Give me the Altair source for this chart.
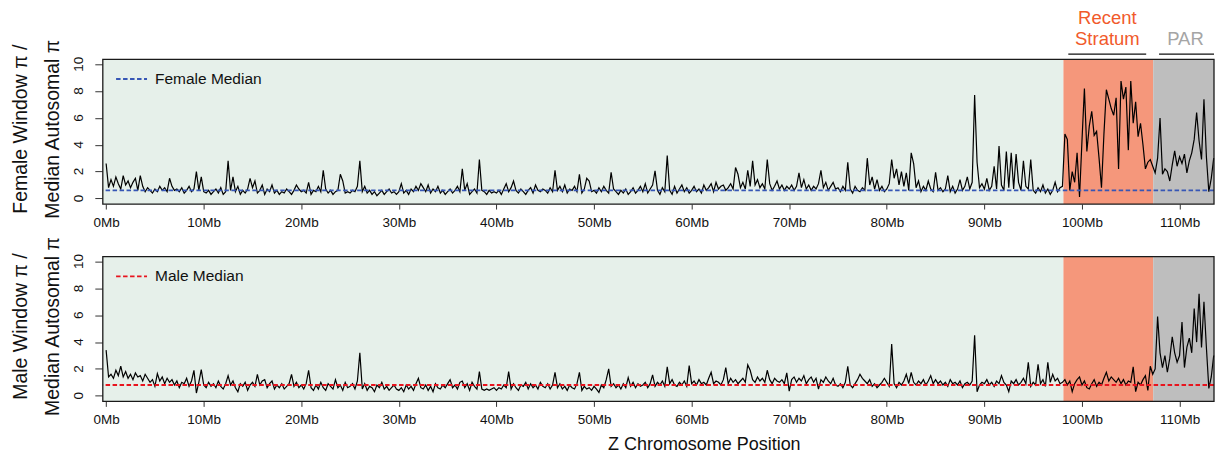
import altair as alt
import pandas as pd

FONT = "Liberation Sans"
STEP_MB = 0.25  # window spacing (Mb)

# Female window pi / median autosomal pi, one value per 0.25 Mb from 0 Mb
female_pi = [
    2.6, 0.8, 1.4, 0.9, 1.6, 1.1, 0.7, 1.7, 1.0, 1.3, 0.8, 1.2, 1.5, 0.6, 1.7, 0.9, 0.5, 0.8, 0.6, 0.4,
    0.7, 0.5, 0.9, 0.6, 0.8, 0.5, 1.5, 0.9, 0.6, 0.7, 0.5, 0.8, 0.4, 0.6, 0.9, 0.5, 0.7, 2.0, 0.6, 1.6,
    0.5, 0.4, 0.6, 0.3, 0.5, 0.7, 0.4, 0.8, 0.3, 0.5, 2.8, 0.6, 1.6, 0.5, 0.9, 0.3, 0.6, 0.4, 0.7, 1.5,
    0.8, 1.3, 0.4, 0.6, 1.0, 0.3, 0.7, 0.5, 1.0, 0.4, 0.6, 0.3, 0.5, 0.4, 0.7, 0.5, 0.3, 0.6, 1.0, 0.7,
    0.5, 0.6, 0.4, 1.2, 0.3, 0.6, 0.5, 0.9, 0.5, 2.1, 0.7, 0.4, 0.6, 0.3, 0.5, 0.6, 1.8, 1.3, 0.4, 0.5,
    0.4, 0.6, 0.5, 0.9, 2.8, 0.5, 0.9, 0.4, 0.6, 0.3, 0.5, 0.2, 0.4, 0.6, 0.3, 0.5, 0.7, 0.4, 0.5, 0.3,
    0.5, 1.1, 0.4, 0.6, 0.3, 0.7, 0.5, 0.9, 0.6, 1.1, 0.8, 0.5, 1.0, 0.4, 0.7, 0.5, 0.9, 0.4, 0.6, 0.3,
    0.5, 0.7, 0.4, 0.6, 0.9, 0.5, 2.2, 0.6, 1.1, 0.3, 0.5, 0.7, 0.4, 2.9, 0.6, 0.5, 0.3, 0.6, 0.4, 0.5,
    0.4, 0.6, 0.3, 0.7, 1.1, 0.5, 0.8, 1.3, 0.6, 0.4, 0.7, 0.5, 0.3, 0.6, 0.8, 0.4, 1.0, 0.6, 0.5, 0.7,
    0.6, 0.4, 0.8, 0.5, 2.1, 0.6, 0.9, 0.5, 1.0, 0.4, 0.7, 0.6, 0.9, 0.5, 1.8, 0.4, 0.7, 1.5, 1.3, 0.5,
    0.6, 0.4, 0.8, 0.5, 0.9, 0.6, 0.4, 1.95, 0.7, 0.5, 0.3, 0.6, 0.4, 0.7, 0.3, 0.5, 0.8, 0.4, 0.6, 0.9,
    0.5, 1.1, 0.4, 0.7, 1.0, 2.05, 0.6, 0.3, 0.8, 0.5, 3.2, 0.6, 0.3, 0.9, 0.4, 0.7, 1.0, 0.5, 0.8, 0.4,
    0.6, 0.9, 0.5, 0.7, 0.4, 1.0, 0.6, 0.8, 1.1, 0.5, 1.2, 0.7, 0.9, 1.0, 0.6, 0.8, 1.1, 0.7, 2.3, 1.8,
    0.8, 1.2, 0.7, 2.1, 0.9, 2.8, 1.0, 1.4, 0.8, 1.1, 0.7, 2.9, 1.1, 0.6, 0.9, 1.3, 0.7, 1.0, 0.6, 0.9,
    0.7, 1.0, 0.6, 0.9, 1.9, 0.8, 1.4, 0.7, 1.0, 0.6, 0.9, 0.7, 1.1, 2.1, 0.8, 1.2, 0.6, 0.9, 1.2, 0.7,
    0.8, 0.5, 0.9, 0.6, 2.7, 0.7, 0.4, 0.9, 0.6, 0.5, 0.8, 0.6, 3.0, 1.0, 1.6, 0.7, 1.4, 0.6, 0.9, 0.5,
    0.7, 1.1, 2.9, 1.5, 2.2, 1.0, 2.0, 0.9, 1.9, 0.6, 3.4, 2.6, 0.8, 1.3, 0.5, 0.9, 0.6, 1.3, 0.7, 0.5,
    1.95, 0.6, 0.8, 0.5, 0.7, 1.7, 0.5, 0.9, 0.4, 0.7, 1.4, 0.6, 0.9, 1.6, 0.7, 1.2, 7.7, 2.7, 0.8, 1.1,
    0.7, 1.5, 0.6, 0.9, 2.4, 0.7, 3.9, 1.0, 0.6, 3.5, 0.8, 3.4, 0.7, 3.3, 1.2, 0.6, 2.8, 0.9, 0.7, 2.9,
    0.6, 0.4, 0.8, 0.5, 1.0, 0.4, 0.7, 0.3, 0.6, 1.2, 0.5, 0.8, 0.9, 4.8, 4.4, 0.6, 2.0, 1.2, 3.4, 0.1,
    4.3, 8.2, 3.5, 5.4, 6.5, 4.7, 5.0, 3.0, 0.8, 4.8, 8.1, 7.4, 6.7, 6.2, 7.5, 2.2, 8.75, 7.4, 8.3, 3.6,
    8.75, 5.6, 7.2, 4.6, 5.6, 4.0, 2.2, 2.7, 2.9, 2.4, 1.9, 3.0, 6.0, 1.8, 2.2, 2.0, 1.3, 2.5, 3.55, 2.4,
    3.1, 2.6, 3.3, 1.9, 2.8, 3.4, 4.4, 6.4, 4.3, 2.9, 7.4, 3.1, 0.5, 1.5, 3.0,
]

# Male window pi / median autosomal pi, one value per 0.25 Mb from 0 Mb
male_pi = [
    3.4, 1.4, 1.6, 1.3, 1.9, 1.5, 2.2, 1.4, 1.8, 1.3, 1.6, 1.2, 1.7, 1.4, 1.5, 1.1, 1.6, 1.3, 1.0, 1.2,
    0.7, 1.65, 1.1, 1.4, 0.9, 1.3, 1.0, 1.2, 0.8, 1.1, 0.6, 1.0, 0.9, 1.3, 0.7, 1.1, 1.9, 0.2, 1.0, 1.95,
    0.8, 0.6, 1.0, 0.7, 0.9, 0.6, 1.1, 0.7, 0.5, 0.9, 1.5, 0.8, 1.1, 0.6, 0.3, 0.9, 0.7, 1.0, 0.4, 0.8,
    1.0, 0.7, 1.6, 0.8, 1.1, 1.2, 0.6, 0.9, 1.1, 0.5, 0.8, 0.6, 0.9, 0.5, 0.7, 0.9, 1.6, 0.7, 1.0, 0.6,
    0.8, 0.5, 0.9, 1.9, 0.6, 0.4, 0.8, 0.5, 1.0, 0.6, 0.4, 0.9, 0.7, 0.5, 1.2, 0.6, 0.8, 0.4, 1.0, 0.6,
    0.7, 0.9, 0.5, 1.1, 3.2, 0.5, 0.9, 0.4, 0.7, 0.6, 0.3, 0.8, 0.6, 1.0, 0.5, 0.7, 0.4, 0.6, 0.8, 0.5,
    0.4, 0.6, 0.3, 0.8, 0.5, 0.7, 0.4, 0.9, 1.3, 0.6, 0.5, 0.8, 0.4, 0.7, 0.3, 0.9, 0.6, 0.5, 0.8, 0.6,
    0.9, 1.2, 0.6, 0.8, 0.5, 1.0, 1.1, 0.6, 0.9, 0.4, 1.0, 0.7, 0.5, 1.8, 0.5, 0.4, 0.5, 0.4, 0.5, 0.6,
    0.4, 0.6, 0.5, 0.8, 0.6, 1.8, 0.5, 0.9, 0.6, 0.4, 0.8, 0.7, 1.0, 0.5, 0.9, 0.6, 0.8, 0.5, 1.0, 0.7,
    0.6, 0.9, 0.5, 0.8, 1.75, 0.6, 0.9, 0.5, 0.7, 0.4, 0.8, 0.6, 0.5, 0.9, 1.75, 0.4, 0.7, 0.5, 0.6, 0.4,
    0.7, 0.5, 0.25, 0.8, 0.6, 1.2, 2.0, 0.7, 0.9, 0.6, 0.8, 0.5, 0.9, 0.6, 1.35, 0.7, 1.0, 0.6, 0.9, 0.7,
    0.8, 1.0, 0.6, 0.9, 1.55, 0.7, 1.0, 0.8, 1.1, 0.7, 2.15, 0.9, 1.2, 0.8, 0.7, 1.0, 0.8, 1.1, 0.7, 2.25,
    0.9, 1.1, 0.8, 1.2, 0.9, 1.0, 0.8, 1.3, 1.75, 0.9, 1.1, 1.0, 0.8, 1.2, 2.1, 0.9, 1.3, 1.0, 1.2, 0.9,
    1.1, 1.3, 1.0, 2.3, 1.9, 1.2, 1.0, 1.4, 1.1, 1.3, 1.0, 1.9, 1.2, 0.9, 1.3, 1.1, 1.0, 1.2, 0.9, 1.7,
    0.35, 1.2, 1.4, 1.0, 1.3, 1.1, 1.5, 0.9, 1.2, 1.4, 1.0, 1.3, 0.5, 1.2, 1.0, 1.4, 1.1, 0.9, 1.3, 0.8,
    0.7, 0.9, 0.6, 1.0, 2.2, 0.8, 0.6, 0.9, 1.2, 1.6, 1.3, 1.1, 0.9, 1.2, 0.7, 0.9, 0.6, 0.8, 1.0, 1.3,
    1.0, 0.7, 3.85, 0.9, 0.6, 1.0, 0.8, 1.1, 1.6, 0.9, 1.75, 1.0, 0.8, 1.1, 0.9, 1.2, 0.8, 1.1, 1.5, 0.9,
    1.2, 0.9, 1.1, 0.8, 1.0, 0.7, 1.2, 0.9, 1.0, 0.8, 1.1, 0.6, 0.9, 1.0, 0.8, 1.1, 4.5, 0.3, 0.8, 1.0,
    0.9, 1.2, 0.8, 1.0, 0.7, 1.1, 0.9, 1.5, 1.0, 0.8, 0.3, 1.1, 0.9, 1.2, 0.8, 1.0, 1.3, 0.9, 2.5, 0.7,
    1.0, 0.8, 2.35, 0.9, 1.2, 0.7, 2.5, 1.0, 1.6, 1.1, 1.3, 0.9, 1.0, 1.2, 0.8, 1.1, 0.3, 0.9, 1.2, 1.4,
    0.8, 1.1, 0.6, 0.5, 0.9, 1.2, 0.7, 1.0, 0.8, 1.3, 1.75, 1.1, 1.4, 1.2, 1.0, 1.3, 0.9, 1.2, 0.8, 1.1,
    1.0, 2.15, 0.3, 1.0, 0.8, 1.2, 1.5, 0.4, 2.2, 1.6, 2.0, 5.9, 3.2, 2.1, 3.0, 1.75, 2.8, 4.4, 3.2, 2.5,
    3.0, 5.5, 2.1, 3.6, 4.3, 3.2, 6.5, 4.0, 7.6, 3.6, 7.0, 3.6, 0.55, 1.4, 3.0,
]

FEMALE_MEDIAN = 0.6
MALE_MEDIAN = 0.8

# Regions of the Z chromosome (Mb)
region_names = ["old", "Recent Stratum", "PAR"]
region_start = [-0.34, 98.1, 107.3]
region_end = [98.1, 107.3, 113.53]
region_fill = ["#E6F0EA", "#F5977B", "#BEBEBE"]

x_ticks = [0, 10, 20, 30, 40, 50, 60, 70, 80, 90, 100, 110]
y_ticks = [0, 2, 4, 6, 8, 10]

W, H = 1113.3, 145
X_DOMAIN = [-0.34, 113.53]
Y_DOMAIN = [-0.42, 10.37]

xs = alt.Scale(domain=X_DOMAIN, nice=False, zero=False)
ys = alt.Scale(domain=Y_DOMAIN, nice=False, zero=False)

xaxis = alt.Axis(values=x_ticks, labelExpr="datum.value + 'Mb'", title=None, domain=False,
                 grid=False, tickSize=5, tickColor="#333333", labelPadding=6,
                 labelFontSize=13.5, labelFont=FONT, labelColor="#111111",
                 labelBaseline="top", labelAlign="center")
# y tick labels are drawn as rotated text marks below
yaxis = alt.Axis(values=y_ticks, title=None, domain=False, grid=False, tickSize=8,
                 tickColor="#333333", labels=False)


def X(field):
    return alt.X(field, type="quantitative", scale=xs, axis=xaxis)


def Y(field):
    return alt.Y(field, type="quantitative", scale=ys, axis=yaxis)


def panel(values, median, med_color, legend_label, ylines, top=False, bottom=False):
    positions = [i * STEP_MB for i in range(len(values))]
    df_line = pd.DataFrame({"pos": positions, "pi": values})
    df_reg = pd.DataFrame({"name": region_names, "start": region_start,
                           "end": region_end, "fill": region_fill})

    bands = alt.Chart(df_reg).mark_rect().encode(
        x=X("start"), x2="end", y=alt.value(0), y2=alt.value(H),
        color=alt.Color("fill:N", scale=None))

    line = alt.Chart(df_line).mark_line(color="black", strokeWidth=1.2).encode(
        x=X("pos"), y=Y("pi"))

    med = alt.Chart(pd.DataFrame({"m": [median]})).mark_rule(
        color=med_color, strokeDash=[4.5, 2.5], strokeWidth=1.8).encode(y=Y("m"))

    leg_rule = alt.Chart(pd.DataFrame({"a": [0]})).mark_rule(
        color=med_color, strokeDash=[4.5, 2.5], strokeWidth=1.8).encode(
        x=alt.value(13.3), x2=alt.value(44.3), y=alt.value(19.7))
    leg_text = alt.Chart(pd.DataFrame({"t": [legend_label]})).mark_text(
        align="left", baseline="middle", fontSize=15.5, font=FONT, color="#111111").encode(
        x=alt.value(52.3), y=alt.value(19.7), text="t:N")

    frame = alt.Chart(pd.DataFrame({"a": [0]})).mark_rect(
        fillOpacity=0, stroke="#1a1a1a", strokeWidth=1.3).encode(
        x=alt.value(0), x2=alt.value(W), y=alt.value(0), y2=alt.value(H))

    ylab = alt.Chart(pd.DataFrame({"v": y_ticks, "t": [str(v) for v in y_ticks]})).mark_text(
        angle=270, align="center", baseline="alphabetic", fontSize=13.5, font=FONT,
        color="#111111").encode(x=alt.value(-20), y=Y("v"), text="t:N")

    ytitle1 = alt.Chart(pd.DataFrame({"t": [ylines[0]]})).mark_text(
        angle=270, align="center", baseline="middle", fontSize=19.5, font=FONT,
        color="#111111").encode(x=alt.value(-81.7), y=alt.value(70), text="t:N")
    ytitle2 = alt.Chart(pd.DataFrame({"t": [ylines[1]]})).mark_text(
        angle=270, align="center", baseline="middle", fontSize=19.5, font=FONT,
        color="#111111").encode(x=alt.value(-49.5), y=alt.value(70), text="t:N")

    layers = [bands, line, med, leg_rule, leg_text, frame, ylab, ytitle1, ytitle2]

    if top:
        ann = pd.DataFrame({"x": [102.6, 102.6, 110.6],
                            "t": ["Recent", "Stratum", "PAR"],
                            "c": ["#F15A2B", "#F15A2B", "#A5A5A5"],
                            "yy": [-41.3, -20.3, -20.3]})
        ann_text = alt.Chart(ann).mark_text(
            align="center", baseline="middle", fontSize=18.5, font=FONT).encode(
            x=X("x"), y=alt.Y("yy:Q", scale=None, axis=None), text="t:N",
            color=alt.Color("c:N", scale=None))
        ul = pd.DataFrame({"s": [98.6, 107.9], "e": [106.58, 113.53]})
        ann_rule = alt.Chart(ul).mark_rule(color="#111111", strokeWidth=1.3).encode(
            x=X("s"), x2="e", y=alt.value(-5.3))
        anchor = alt.Chart(pd.DataFrame({"a": [0]})).mark_rect(color="white").encode(
            x=alt.value(-101.7), x2=alt.value(-100.7), y=alt.value(-58.3), y2=alt.value(-57.3))
        layers += [ann_text, ann_rule, anchor]

    if bottom:
        xt = alt.Chart(pd.DataFrame({"t": ["Z Chromosome Position"], "x": [61.3]})).mark_text(
            align="center", baseline="middle", fontSize=18, font=FONT, color="#111111").encode(
            x=X("x"), y=alt.value(189), text="t:N")
        anchor = alt.Chart(pd.DataFrame({"a": [0]})).mark_rect(color="white").encode(
            x=alt.value(W + 0.7), x2=alt.value(W + 1.7), y=alt.value(201), y2=alt.value(202))
        layers += [xt, anchor]

    return alt.layer(*layers).properties(width=W, height=H)


top_panel = panel(female_pi, FEMALE_MEDIAN, "#3656B5", "Female Median",
                  ["Female Window π /", "Median Autosomal π"], top=True)
bottom_panel = panel(male_pi, MALE_MEDIAN, "#E8141E", "Male Median",
                     ["Male Window π /", "Median Autosomal π"], bottom=True)

chart = alt.vconcat(top_panel, bottom_panel, spacing=52.7, bounds="flush").properties(
    padding=0, background="white"
).configure_view(stroke="transparent")

chart.save("out.html", embed_options={"renderer": "svg", "actions": False})
